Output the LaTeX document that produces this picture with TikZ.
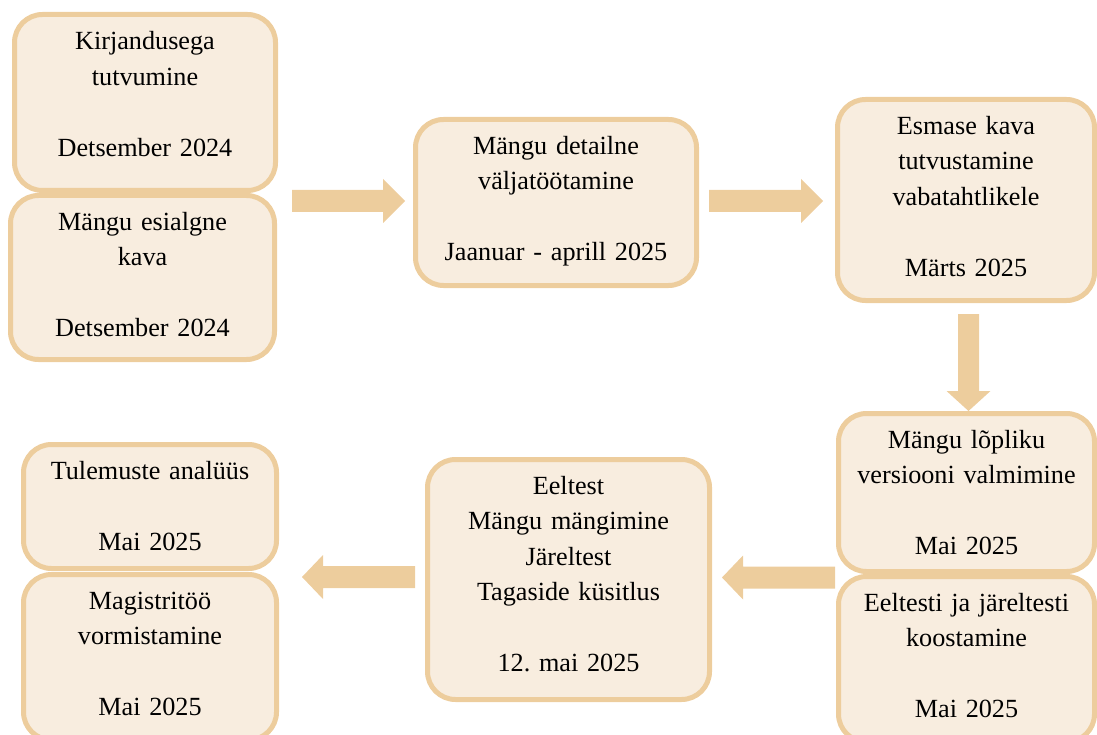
\documentclass[tikz,border=0pt]{standalone}
\usepackage{fontspec}
\setmainfont{Liberation Serif}
\usetikzlibrary{calc}
\frenchspacing

\definecolor{boxfill}{RGB}{248,237,223}
\definecolor{boxline}{RGB}{237,205,157}
\definecolor{arrowfill}{RGB}{237,205,157}

% block arrows: #1 = start of shaft, #2 = tip
\newcommand{\rightblock}[2]{%
  \fill[arrowfill] ($(#1)+(0,-11)$) -- ($(#2)+(-22,-11)$) -- ($(#2)+(-22,-22)$) -- (#2)
    -- ($(#2)+(-22,22)$) -- ($(#2)+(-22,11)$) -- ($(#1)+(0,11)$) -- cycle;}
\newcommand{\leftblock}[2]{%
  \fill[arrowfill] ($(#1)+(0,-11)$) -- ($(#2)+(21,-11)$) -- ($(#2)+(21,-22)$) -- (#2)
    -- ($(#2)+(21,22)$) -- ($(#2)+(21,11)$) -- ($(#1)+(0,11)$) -- cycle;}
\newcommand{\downblock}[2]{%
  \fill[arrowfill] ($(#1)+(-10.5,0)$) -- ($(#2)+(-10.5,-20)$) -- ($(#2)+(-22,-20)$) -- (#2)
    -- ($(#2)+(22,-20)$) -- ($(#2)+(10.5,-20)$) -- ($(#1)+(10.5,0)$) -- cycle;}

\tikzset{
  stagebox/.style={rectangle, rounded corners=28pt, draw=boxline, fill=boxfill,
    line width=5pt, inner sep=0pt, outer sep=0pt},
  stagetext/.style={anchor=base, inner sep=0pt, align=center,
    font=\fontsize{26.2}{35.4}\selectfont},
}

\begin{document}
\begin{tikzpicture}[x=1pt,y=-1pt]
\useasboundingbox (0,0) rectangle (1097,735);

% stage boxes
\node[stagebox, minimum width=261pt, minimum height=176pt] (b1) at (145,102.5) {};
\node[stagebox, minimum width=264pt, minimum height=164pt] (b2) at (142.5,277.5) {};
\node[stagebox, minimum width=281pt, minimum height=166pt] (b3) at (556,202.5) {};
\node[stagebox, minimum width=257pt, minimum height=201pt] (b4) at (966,200) {};
\node[stagebox, minimum width=256pt, minimum height=158pt] (b5) at (966.5,492.5) {};
\node[stagebox, minimum width=256pt, minimum height=165.5pt] (b6) at (966.5,659.25) {};
\node[stagebox, minimum width=282pt, minimum height=240pt] (b7) at (568.5,579.5) {};
\node[stagebox, minimum width=253pt, minimum height=124pt] (b8) at (150,506.5) {};
\node[stagebox, minimum width=253pt, minimum height=165.5pt] (b9) at (150,657.25) {};

% stage texts, first baseline below the top edge
\node[stagetext, text width=250pt] (t1) at ($(b1.north)+(0,35.5)$)
  {Kirjandusega\\tutvumine\\[35.4pt]Detsember 2024};
\node[stagetext, text width=250pt] (t2) at ($(b2.north)+(0,35)$)
  {Mängu esialgne\\kava\\[35.4pt]Detsember 2024};
\node[stagetext, text width=270pt] (t3) at ($(b3.north)+(0,35)$)
  {Mängu detailne\\väljatöötamine\\[35.4pt]Jaanuar - aprill 2025};
\node[stagetext, text width=250pt] (t4) at ($(b4.north)+(0,35)$)
  {Esmase kava\\tutvustamine\\vabatahtlikele\\[35.4pt]Märts 2025};
\node[stagetext, text width=250pt] (t5) at ($(b5.north)+(0,35)$)
  {Mängu lõpliku\\versiooni valmimine\\[35.4pt]Mai 2025};
\node[stagetext, text width=250pt] (t6) at ($(b6.north)+(0,35)$)
  {Eeltesti ja järeltesti\\koostamine\\[35.4pt]Mai 2025};
\node[stagetext, text width=270pt] (t7) at ($(b7.north)+(0,35)$)
  {Eeltest\\Mängu mängimine\\Järeltest\\Tagaside küsitlus\\[35.4pt]12. mai 2025};
\node[stagetext, text width=250pt] (t8) at ($(b8.north)+(0,35)$)
  {Tulemuste analüüs\\[35.4pt]Mai 2025};
\node[stagetext, text width=250pt] (t9) at ($(b9.north)+(0,35)$)
  {Magistritöö\\vormistamine\\[35.4pt]Mai 2025};

% connector end points
\coordinate (a1s) at ($(b3.west -| b1.east)+(16.5,-1.5)$);
\coordinate (a1e) at ($(b3.west)+(-10.5,-1.5)$);
\coordinate (a2s) at ($(b3.east)+(12.5,-1.5)$);
\coordinate (a2e) at ($(b3.east -| b4.west)+(-14.5,-1.5)$);
\coordinate (a3s) at ($(b4.south)+(2.5,13.5)$);
\coordinate (a3e) at ($(b5.north)+(2,-2.5)$);
\coordinate (a4s) at ($(b7.east -| b5.west)+(-3.5,-2)$);
\coordinate (a4e) at ($(b7.east)+(12.5,-2)$);
\coordinate (a5s) at ($(b7.west)+(-12.5,-2.5)$);
\coordinate (a5e) at ($(b7.west -| b8.east)+(25.5,-2.5)$);

% connectors
\rightblock{a1s}{a1e}
\rightblock{a2s}{a2e}
\downblock{a3s}{a3e}
\leftblock{a4s}{a4e}
\leftblock{a5s}{a5e}
\end{tikzpicture}
\end{document}
